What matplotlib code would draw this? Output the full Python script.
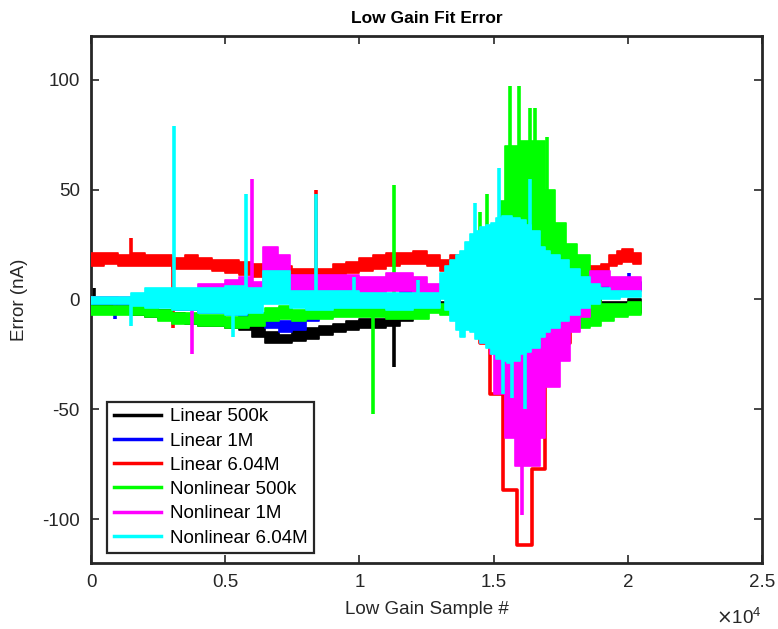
import matplotlib
matplotlib.use("Agg")
import matplotlib.pyplot as plt
import numpy as np

plt.rcParams['font.family'] = ['Liberation Sans', 'DejaVu Sans']
plt.rcParams['axes.unicode_minus'] = False

series_names = ['Linear 500k', 'Linear 1M', 'Linear 6.04M',
                'Nonlinear 500k', 'Nonlinear 1M', 'Nonlinear 6.04M']
series_colors = ['#000000', '#0000ff', '#ff0000', '#00ff00', '#ff00ff', '#00ffff']

# Fit error envelopes: breakpoints (sample #), lower / upper edge (nA)
lin500k_x  = [0, 500, 1000, 1500, 2000, 2500, 3000, 3500, 4000, 4500, 5000, 5500, 6000, 6500,
              7000, 7500, 8000, 8500, 9000, 9500, 10000, 10500, 11000, 11500, 12000, 12500,
              13000, 13500, 18500, 19000, 20000, 20480]
lin500k_lo = [-5, -5, -6, -7, -8, -9, -10, -11, -12, -12, -13, -14, -17, -20,
              -20, -19, -18, -16, -15, -14, -13, -13, -12, -10, -6, -3,
              -4, -5, -4, -5, -6, -6]
lin500k_hi = [-1, -2, -2, -3, -4, -5, -6, -7, -8, -8, -9, -10, -12, -15,
              -16, -14, -13, -12, -11, -10, -9, -9, -8, -6, -2, 0,
              -1, -1, 0, -1, 0, 0]
lin500k_spike_x = [100, 11300]
lin500k_spike_y = [5, -31]

lin1m_x  = [0, 1000, 2000, 3000, 4000, 5000, 5500, 6000, 6500, 7000, 7500, 8000, 8500, 9000,
            10000, 11000, 11500, 12500, 13000, 18500, 19000, 19500, 20000, 20480]
lin1m_lo = [-2, -3, -3, -5, -6, -7, -8, -11, -13, -15, -14, -10, -8, -5,
            -3, -1, 1, 2, 1, 3, 3, 4, 4, 4]
lin1m_hi = [1, 0, 0, -1, -2, -3, -4, -6, -8, -10, -9, -5, -3, 0,
            1, 2, 4, 5, 4, 6, 7, 8, 8, 8]
lin1m_spike_x = [900, 20050]
lin1m_spike_y = [-9, 12]

lin604m_x  = [0, 500, 1000, 1500, 2000, 2500, 3000, 3500, 4000, 4500, 5000, 5500, 6000, 6500,
              7000, 7500, 8000, 8500, 9000, 9500, 10000, 10500, 11000, 11500, 12000, 12500,
              13000, 13380, 13750, 18300, 18600, 19000, 19300, 19600, 19800, 20200, 20480]
lin604m_lo = [15, 16, 15, 15, 15, 15, 14, 14, 14, 13, 12, 11, 10, 9,
              9, 9, 9, 10, 11, 12, 13, 14, 15, 16, 16, 15,
              13, 12, 8, 5, 11, 12, 15, 16, 17, 16, 16]
lin604m_hi = [21, 21, 20, 21, 20, 20, 19, 20, 19, 18, 18, 17, 16, 15,
              15, 14, 14, 14, 16, 17, 19, 20, 21, 21, 22, 20,
              18, 20, 16, 12, 15, 16, 20, 22, 23, 21, 21]
lin604m_spike_x = [1490, 3055, 8384]
lin604m_spike_y = [28, -13, 50]
# excursion of the 6.04M linear fit through the high-current region
lin604m_dip_x = [13750, 14490, 14870, 15350, 15870, 16430, 16920, 17360, 17850, 18300]
lin604m_dip_y = [-8, -20, -43, -87, -112, -77, -36, -20, -8, 5]

nl500k_x  = [0, 1000, 2000, 2500, 3000, 4000, 5000, 5900, 6500, 7000, 7500, 8000, 9000,
             10000, 11000, 12000, 12600, 13000, 13500, 14000, 14500, 14870, 15240, 15430,
             16000, 16500, 16900, 17300, 17700, 18100, 18600, 19000, 19500, 20000, 20480]
nl500k_lo = [-7, -7, -8, -10, -11, -12, -13, -12, -10, -9, -10, -9, -8,
             -8, -9, -9, -6, -7, -8, -9, -10, -10, -10, -10,
             -10, -10, -12, -14, -14, -13, -12, -10, -8, -7, -6]
nl500k_hi = [-3, -3, -4, -5, -6, -7, -8, -6, -4, -3, -5, -4, -3,
             -3, -4, -4, -2, -2, -3, 10, 20, 30, 45, 70,
             72, 72, 50, 35, 25, 20, 8, -2, -2, -1, -1]
nl500k_spike_x = [10500, 11300, 14500, 14750, 15600, 15950, 16350, 16550, 17000]
nl500k_spike_y = [-52, 52, 40, 48, 97, 97, 87, 87, 74]

nl1m_x  = [0, 1000, 2000, 3000, 4000, 5000, 5500, 6000, 6400, 6950, 7400,
           9000, 10000, 11000, 12000, 12500, 13000, 13500, 14000, 14500, 14870, 15000, 15430,
           15800, 16730, 16920, 17470, 17850, 18220, 18600, 19340, 20000, 20480]
nl1m_lo = [-1, -1, 0, 1, 1, 2, 3, 3, 2, 2, 3,
           3, 3, 4, 3, 2, 2, 1, -5, -20, -25, -43, -63,
           -76, -63, -40, -28, -15, -8, 6, 4, 4, 4]
nl1m_hi = [1, 1, 3, 4, 7, 9, 10, 8, 24, 20, 11,
           11, 10, 12, 10, 7, 6, 4, 4, 5, 5, 5, 5,
           5, 5, 5, 5, 5, 8, 13, 10, 10, 10]
nl1m_spike_x = [3763, 6000, 16060]
nl1m_spike_y = [-25, 55, -98]

nl604m_x  = [0, 1000, 1500, 2000, 3000, 4000, 5000, 5800, 6400, 7400, 8000, 9000,
             10000, 11000, 12000, 13000, 13200, 13380, 13600, 13750, 13950, 14120, 14300,
             14490, 14700, 14900, 15100, 15300, 15500, 15700, 15980, 16200, 16400, 16730,
             16900, 17100, 17470, 17800, 18220, 18600, 18970, 19350, 19710, 20480]
nl604m_lo = [-2, -2, -3, -4, -5, -6, -7, -6, -2, -4, -5, -4,
             -4, -5, -4, 0, -5, -10, -14, -17, -14, -15, -18,
             -20, -22, -25, -27, -28, -29, -28, -25, -24, -22, -17,
             -15, -13, -10, -7, -4, -2, 0, 0, 1, 1]
nl604m_hi = [1, 1, 3, 5, 5, 5, 6, 5, 13, 4, 4, 4,
             3, 3, 3, 12, 15, 18, 20, 22, 26, 30, 31,
             33, 34, 35, 37, 38, 38, 37, 36, 34, 31, 24,
             22, 20, 18, 14, 10, 7, 5, 4, 4, 3]
nl604m_spike_x = [1490, 3093, 5290, 5775, 8384, 9800, 12200, 14300, 15200, 15350, 15700,
                  16150, 16350]
nl604m_spike_y = [-12, 79, -17, 48, 48, 10, 9, 44, 60, -43, -45, -50, 55]

bands = [
    (lin500k_x, lin500k_lo, lin500k_hi, lin500k_spike_x, lin500k_spike_y),
    (lin1m_x, lin1m_lo, lin1m_hi, lin1m_spike_x, lin1m_spike_y),
    (lin604m_x, lin604m_lo, lin604m_hi, lin604m_spike_x, lin604m_spike_y),
    (nl500k_x, nl500k_lo, nl500k_hi, nl500k_spike_x, nl500k_spike_y),
    (nl1m_x, nl1m_lo, nl1m_hi, nl1m_spike_x, nl1m_spike_y),
    (nl604m_x, nl604m_lo, nl604m_hi, nl604m_spike_x, nl604m_spike_y),
]

x_ticks = [0, 5000, 10000, 15000, 20000, 25000]
x_tick_labels = ['0', '0.5', '1', '1.5', '2', '2.5']
y_ticks = [-100, -50, 0, 50, 100]

fig = plt.figure(figsize=(7.78, 6.29), dpi=100)
ax = fig.add_axes([0.117, 0.105, 0.8625, 0.838])

for i, (bx, lo, hi, sx, sy) in enumerate(bands):
    col = series_colors[i]
    xs = np.asarray(bx, dtype=float)
    los = np.asarray(lo, dtype=float)
    his = np.asarray(hi, dtype=float)
    ax.fill_between(xs, los, his, step='post', color=col, linewidth=1.2,
                    edgecolor=col, zorder=2 + i)
    if i == 2:
        ax.step(np.append(lin604m_dip_x, lin604m_dip_x[-1]),
                np.append(lin604m_dip_y, lin604m_dip_y[-1]),
                where='post', color=col, linewidth=2.6, zorder=2 + i)
    # each spike rises from the middle of its band
    idx = np.searchsorted(xs, sx, side='right') - 1
    base = (los[idx] + his[idx]) / 2.0
    ax.vlines(sx, base, sy, color=col, linewidth=2.6, zorder=2 + i)

handles = [plt.Line2D([], [], color=c, linewidth=2.5) for c in series_colors]
leg = ax.legend(handles, series_names, loc='lower left', bbox_to_anchor=(0.016, 0.008),
                fontsize=13.5, frameon=True, fancybox=False, framealpha=1,
                handlelength=2.5, handletextpad=0.5, labelspacing=0.38,
                borderpad=0.35, borderaxespad=0.3)
leg.get_frame().set_edgecolor('#262626')
leg.get_frame().set_linewidth(1.6)

ax.set_xlim(0, 25000)
ax.set_ylim(-120, 120)
ax.set_xticks(x_ticks)
ax.set_xticklabels(x_tick_labels)
ax.set_yticks(y_ticks)
ax.tick_params(direction='in', length=6, width=1.2, top=True, right=True,
               labelsize=13.5, colors='#262626', pad=8)
for sp in ax.spines.values():
    sp.set_linewidth(2.0)
    sp.set_color('#262626')

ax.set_title('Low Gain Fit Error', fontsize=12.5, fontweight='bold', pad=9)
ax.set_xlabel('Low Gain Sample #', fontsize=13.5, color='#262626', labelpad=7)
ax.set_ylabel('Error (nA)', fontsize=13.5, color='#262626', labelpad=10)
ax.text(1.0, -0.105, r'$\times\mathregular{10^{4}}$', transform=ax.transAxes,
        ha='right', va='center', fontsize=13.5, color='#262626')

fig.savefig('out.png', dpi=100)
